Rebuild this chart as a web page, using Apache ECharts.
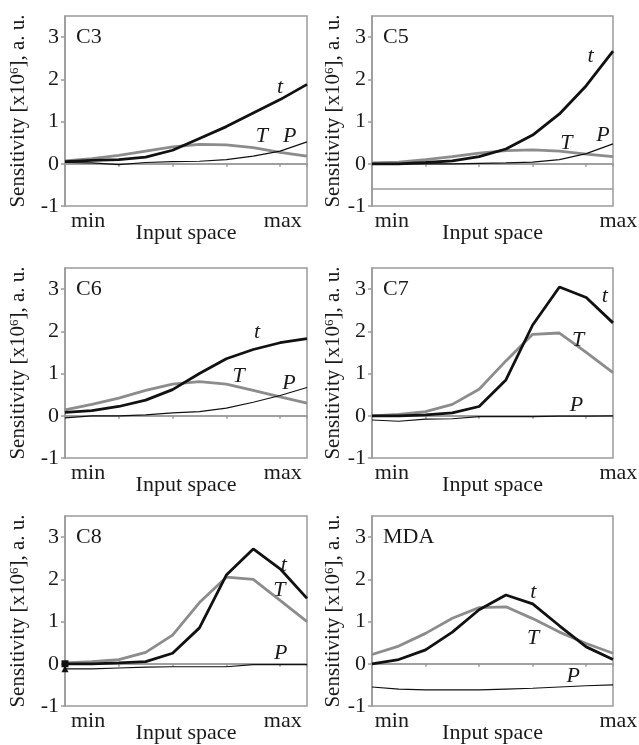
<!DOCTYPE html>
<html><head><meta charset="utf-8">
<script src="https://cdn.jsdelivr.net/npm/echarts@6/dist/echarts.min.js"></script>
<style>html,body{margin:0;padding:0;background:#fff}#c{width:639px;height:745px}</style>
</head><body><div id="c"></div>
<script>
// ---------- data ----------
const xPoints = [0,1,2,3,4,5,6,7,8,9];
const panelNames = ['C3','C5','C6','C7','C8','MDA'];
const yTickValues = [-1,0,1,2,3];
const xEndLabels = ['min','max'];
const seriesNames = ['t','T','P'];

const c3_t = [0.05,0.08,0.10,0.16,0.32,0.60,0.88,1.20,1.52,1.88];
const c3_T = [0.07,0.12,0.20,0.30,0.40,0.46,0.45,0.38,0.27,0.18];
const c3_P = [0.03,0.02,-0.02,0.03,0.05,0.06,0.10,0.18,0.30,0.52];

const c5_t = [0.00,0.00,0.03,0.07,0.17,0.35,0.68,1.18,1.85,2.67];
const c5_T = [0.02,0.04,0.10,0.17,0.25,0.31,0.33,0.30,0.23,0.17];
const c5_P = [0.00,0.00,0.00,0.00,0.01,0.02,0.04,0.10,0.24,0.47];

const c6_t = [0.08,0.12,0.22,0.37,0.62,1.00,1.35,1.57,1.73,1.83];
const c6_T = [0.14,0.27,0.42,0.60,0.75,0.81,0.75,0.60,0.45,0.30];
const c6_P = [-0.05,0.00,0.00,0.02,0.07,0.10,0.18,0.32,0.48,0.67];

const c7_t = [0.00,0.00,0.02,0.07,0.22,0.85,2.15,3.05,2.80,2.20];
const c7_T = [0.00,0.03,0.10,0.27,0.63,1.30,1.93,1.96,1.50,1.02];
const c7_P = [-0.10,-0.13,-0.08,-0.07,-0.02,-0.02,-0.02,-0.01,-0.01,0.00];

const c8_t = [0.00,0.00,0.02,0.05,0.25,0.85,2.10,2.72,2.25,1.55];
const c8_T = [0.02,0.05,0.10,0.27,0.68,1.45,2.05,2.00,1.50,1.00];
const c8_P = [-0.12,-0.12,-0.10,-0.08,-0.07,-0.07,-0.07,-0.02,-0.02,-0.02];

const mda_t = [0.00,0.10,0.33,0.75,1.28,1.63,1.42,0.90,0.40,0.10];
const mda_T = [0.22,0.42,0.72,1.08,1.33,1.35,1.07,0.75,0.48,0.25];
const mda_P = [-0.55,-0.60,-0.62,-0.62,-0.62,-0.60,-0.58,-0.55,-0.52,-0.50];

const refLines = [[0],[0,-0.6],[0],[0],[0],[0]];

// ---------- layout / style ----------
const panelData = [
  [c3_t,c3_T,c3_P],[c5_t,c5_T,c5_P],[c6_t,c6_T,c6_P],
  [c7_t,c7_T,c7_P],[c8_t,c8_T,c8_P],[mda_t,mda_T,mda_P]
];
const grids = [
  {left:65, top:16, width:242, height:190},
  {left:372,top:16, width:241, height:190},
  {left:65, top:268,width:242, height:190},
  {left:372,top:268,width:241, height:190},
  {left:65, top:516,width:242, height:190},
  {left:372,top:516,width:241, height:190}
];
// annotation anchors (data units)
const labelAnchors = [
  [[8.0,1.82],[7.32,0.66],[8.36,0.66]],
  [[8.16,2.54],[7.26,0.49],[8.63,0.67]],
  [[7.14,1.98],[6.46,0.93],[8.33,0.77]],
  [[8.69,2.82],[7.7,1.8],[7.64,0.25]],
  [[8.14,2.33],[7.97,1.75],[8.02,0.26]],
  [[6.02,1.7],[6.02,0.6],[7.51,-0.3]]
];
const endLabelX = [[0.86,8.1],[0.74,9.2],[0.86,8.1],[0.74,9.2],[0.86,8.1],[0.74,9.2]];
const nameGaps = [36,22,36,22,36,22];

const FONT = "'Liberation Serif','DejaVu Serif',serif";
const TXT = '#1a1a1a';
const GRAY = '#9a9a9a';
const styles = [
  {color:'#111', width:2.8},
  {color:'#8c8c8c', width:2.8},
  {color:'#111', width:1.2}
];

const chart = echarts.init(document.getElementById('c'), null, {renderer:'canvas'});
const option = {
  animation:false,
  backgroundColor:'#fff',
  grid: grids.map(g => Object.assign({show:true, borderColor:GRAY, borderWidth:1.5, backgroundColor:'transparent'}, g)),
  xAxis: grids.map((g,i) => ({
    type:'value', gridIndex:i, min:0, max:9, interval:2,
    axisLine:{show:true, lineStyle:{color:GRAY, width:1.5}},
    axisTick:{show:true, length:3, lineStyle:{color:GRAY, width:1.5}},
    axisLabel:{show:false},
    splitLine:{show:false},
    name:'Input space', nameLocation:'middle', nameGap:16,
    nameTextStyle:{fontFamily:FONT, fontSize:22, color:TXT}
  })),
  yAxis: grids.map((g,i) => ({
    type:'value', gridIndex:i, min:-1, max:3.5, interval:1,
    axisLine:{show:true, lineStyle:{color:GRAY, width:1.5}},
    axisTick:{show:true, length:4, customValues:yTickValues, lineStyle:{color:GRAY, width:1.5}},
    axisLabel:{show:true, margin:6, customValues:yTickValues, fontFamily:FONT, fontSize:22, color:TXT,
      formatter: v => (Number.isInteger(v) ? String(v) : '')},
    splitLine:{show:false},
    name:'Sensitivity [x10{sup|6}], a. u.', nameLocation:'middle', nameGap:nameGaps[i],
    nameTextStyle:{fontFamily:FONT, fontSize:21, color:TXT,
      rich:{sup:{fontFamily:FONT, fontSize:13, color:TXT, verticalAlign:'top', padding:[0,0,8,0]}}}
  })),
  series: []
};
panelData.forEach((arrs, i) => {
  [1,0,2].forEach((k, order) => {
    const s = {
      type:'line', name:seriesNames[k], xAxisIndex:i, yAxisIndex:i,
      data: xPoints.map((x,j) => [x, arrs[k][j]]),
      showSymbol:false, symbol:'none',
      lineStyle:{color:styles[k].color, width:styles[k].width},
      itemStyle:{color:styles[k].color},
      z: 3+order, silent:true
    };
    if (panelNames[i]==='C8' && k!==1) {
      s.showSymbol = true;
      s.symbol = (v, p) => p.dataIndex===0 ? (k===0?'rect':'triangle') : 'none';
      s.symbolSize = 7;
    }
    if (order===0) {
      s.markLine = {silent:true, symbol:'none', label:{show:false},
        lineStyle:{color:GRAY, width:1.5, type:'solid'},
        data: refLines[i].map(v => ({yAxis:v})), z:1};
    }
    option.series.push(s);
  });
});
chart.setOption(option);

// annotations
const graphics = [];
grids.forEach((g,i) => {
  graphics.push({type:'text', left:g.left+11, top:g.top+10, z:10,
    style:{text:panelNames[i], font:`22px ${FONT}`, fill:TXT}});
  labelAnchors[i].forEach((a,k) => {
    const p = chart.convertToPixel({gridIndex:i}, a);
    graphics.push({type:'text', x:p[0], y:p[1], z:10,
      style:{text:seriesNames[k], font:`italic 22px ${FONT}`, fill:TXT, align:'center', verticalAlign:'middle'}});
  });
  endLabelX[i].forEach((xv,k) => {
    const p = chart.convertToPixel({gridIndex:i}, [xv,-1]);
    graphics.push({type:'text', x:p[0], y:p[1]+4, z:10,
      style:{text:xEndLabels[k], font:`22px ${FONT}`, fill:TXT, align:'center', verticalAlign:'top'}});
  });
});
chart.setOption({graphic:graphics});
</script>
</body></html>
